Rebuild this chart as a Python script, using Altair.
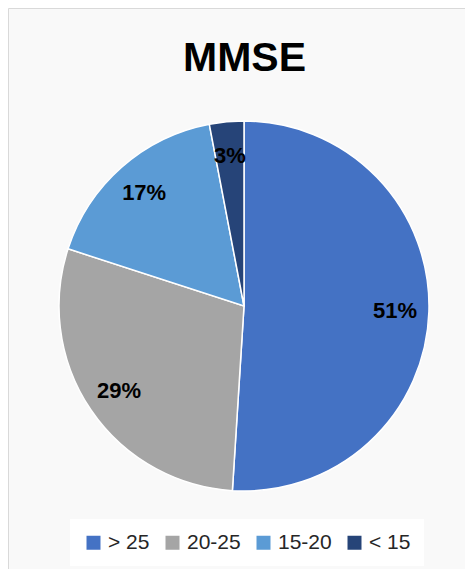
import altair as alt
import pandas as pd

categories = ["> 25", "20-25", "15-20", "< 15"]
percents = [51, 29, 17, 3]
colors = ["#4472C4", "#A5A5A5", "#5B9BD5", "#264478"]
labels = [f"{p}%" for p in percents]

df = pd.DataFrame({
    "category": categories,
    "pct": percents,
    "label": labels,
    "order": list(range(len(categories))),
})

W, H = 457, 561

base = alt.Chart(df).encode(
    theta=alt.Theta("pct:Q", stack=True),
    order=alt.Order("order:Q"),
    x=alt.value(236),
    y=alt.value(298),
)

arc = base.mark_arc(outerRadius=185, stroke="white", strokeWidth=1.5).encode(
    color=alt.Color(
        "category:N",
        sort=categories,
        scale=alt.Scale(domain=categories, range=colors),
        legend=alt.Legend(
            title=None,
            orient="none",
            legendX=62,
            legendY=511,
            direction="horizontal",
            symbolType="square",
            symbolSize=196,
            symbolStrokeWidth=0,
            labelFontSize=21,
            labelFont="Liberation Sans",
            labelColor="#262626",
            labelOffset=4,
            columnPadding=12,
            padding=13,
            fillColor="white",
            labelLimit=0,
        ),
    )
)

text = base.mark_text(
    radius=151, fontSize=22, fontWeight="bold", font="Liberation Sans", color="black"
).encode(text="label:N")

chart = (
    alt.layer(arc, text)
    .properties(
        width=W,
        height=H,
        autosize=alt.AutoSizeParams(type="none"),
        padding=0,
        background="white",
        title=alt.TitleParams(
            "MMSE",
            fontSize=41,
            fontWeight="bold",
            font="Liberation Sans",
            color="black",
            anchor="middle",
            dx=8,
            dy=76,
        ),
    )
    .configure_view(stroke="#d9d9d9", strokeWidth=1, fill="#f9f9f9")
)

chart.save("out.html", embed_options={"renderer": "svg", "actions": False})
